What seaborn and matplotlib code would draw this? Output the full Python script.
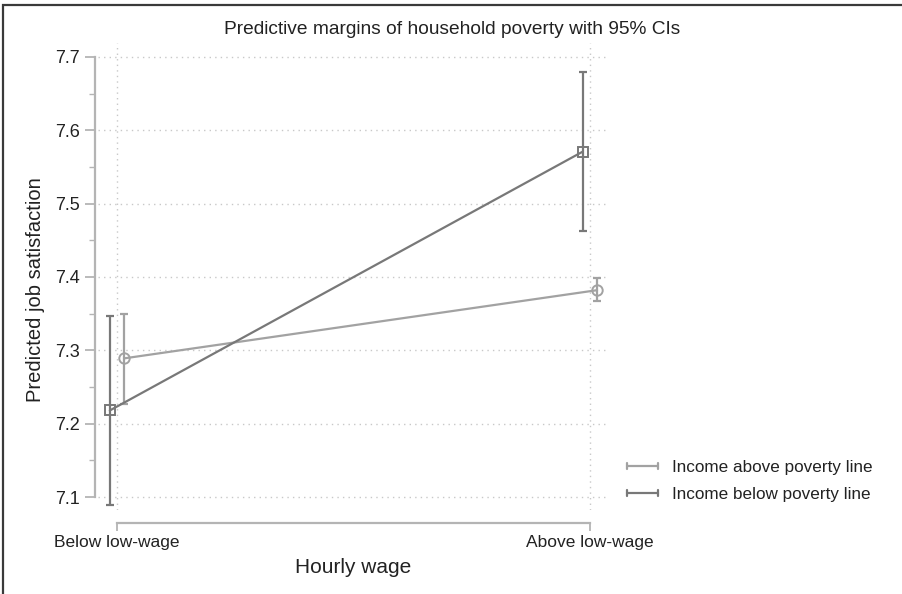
import numpy as np
import pandas as pd
import matplotlib
matplotlib.use("Agg")
import matplotlib.pyplot as plt
import seaborn as sns
from matplotlib.lines import Line2D
from matplotlib.legend_handler import HandlerBase
from matplotlib.patches import Rectangle

# Predictive margins data
wage_levels = ["Below low-wage", "Above low-wage"]
groups = ["Income above poverty line", "Income below poverty line"]
margin_above = [7.289, 7.382]
ci_low_above = [7.227, 7.367]
ci_high_above = [7.350, 7.398]
margin_below = [7.218, 7.571]
ci_low_below = [7.089, 7.463]
ci_high_below = [7.347, 7.679]
y_ticks = [7.1, 7.2, 7.3, 7.4, 7.5, 7.6, 7.7]

colors = {groups[0]: "#a2a2a2", groups[1]: "#787878"}
markers = {groups[0]: "o", groups[1]: "s"}
dodge = {groups[0]: 0.015, groups[1]: -0.015}

rows = []
for g, m, lo, hi in [(groups[0], margin_above, ci_low_above, ci_high_above),
                     (groups[1], margin_below, ci_low_below, ci_high_below)]:
    for i, w in enumerate(wage_levels):
        rows.append({"wage": w, "xpos": i + dodge[g], "group": g,
                     "margin": m[i], "lo": lo[i], "hi": hi[i]})
df = pd.DataFrame(rows)

sns.set_theme(style="white")
plt.rcParams["font.family"] = ["Liberation Sans", "DejaVu Sans"]

fig = plt.figure(figsize=(9.03, 5.94), dpi=100)
W, H = 903, 594
ax = fig.add_axes([98 / W, 1 - 510 / H, (607 - 98) / W, (510 - 43) / H])

# margin lines with hollow markers
sns.lineplot(data=df, x="xpos", y="margin", hue="group", style="group",
             palette=colors, markers=markers, dashes=False, linewidth=1.6,
             markersize=7.5, ax=ax, legend=False, zorder=4, sort=False)
for line in ax.lines:
    c = line.get_color()
    line.set_markerfacecolor("none")
    line.set_markeredgecolor(c)
    line.set_markeredgewidth(1.4)

# confidence intervals
for g in groups:
    sub = df[df.group == g]
    ax.errorbar(sub.xpos, sub.margin,
                yerr=[sub.margin - sub.lo, sub.hi - sub.margin],
                fmt="none", ecolor=colors[g], elinewidth=1.6,
                capsize=3, capthick=1.6, zorder=3)

ax.set_xlim(-0.040, 1.036)
ax.set_ylim(7.0823, 7.719)
ax.set_yticks(y_ticks)
ax.set_yticklabels([f"{v:.1f}" for v in y_ticks])
ax.set_yticks(np.arange(7.15, 7.7, 0.1), minor=True)
ax.set_xticks([0, 1])
ax.set_xticklabels(wage_levels)

ax.grid(True, which="major", color="#c8c8c8", linestyle=(0, (1, 3)), linewidth=1.0)

for s in ["top", "right"]:
    ax.spines[s].set_visible(False)
ax.spines["left"].set_bounds(7.1, 7.7)
ax.spines["left"].set_position(("outward", 2))
ax.spines["bottom"].set_bounds(0, 1)
ax.spines["bottom"].set_position(("outward", 9))
for s in ["left", "bottom"]:
    ax.spines[s].set_color("#b4b4b4")
    ax.spines[s].set_linewidth(1.6)

ax.tick_params(axis="y", which="major", direction="out", length=7, width=1.3,
               color="#b4b4b4", labelsize=13, labelcolor="#222222", pad=4, left=True)
ax.tick_params(axis="y", which="minor", direction="out", length=4, width=1.0,
               color="#b4b4b4", left=True)
ax.tick_params(axis="x", direction="out", length=6, width=1.3, color="#b4b4b4",
               labelsize=12.5, labelcolor="#222222", pad=2.8, bottom=True)

ax.set_xlabel("Hourly wage", fontsize=15, color="#222222")
ax.xaxis.set_label_coords(0.501, -0.124)
ax.xaxis.label.set_va("center")
ax.set_ylabel("Predicted job satisfaction", fontsize=14.5, color="#222222")
ax.yaxis.set_label_coords(-0.123, 0.471)
ax.yaxis.label.set_va("center")

fig.text(452 / W, 1 - 30 / H, "Predictive margins of household poverty with 95% CIs",
         ha="center", va="center", fontsize=13.8, color="#222222")


class CappedLineHandler(HandlerBase):
    def create_artists(self, legend, orig_handle, xdescent, ydescent, width,
                       height, fontsize, trans):
        c = orig_handle.get_color()
        lw = orig_handle.get_linewidth()
        y = height / 2 - ydescent
        x0, x1 = -xdescent, -xdescent + width
        cap = height * 0.25
        arts = [Line2D([x0, x1], [y, y], color=c, lw=lw),
                Line2D([x0, x0], [y - cap, y + cap], color=c, lw=lw),
                Line2D([x1, x1], [y - cap, y + cap], color=c, lw=lw)]
        for a in arts:
            a.set_transform(trans)
        return arts


handles = [Line2D([], [], color=colors[g], lw=1.6) for g in groups]
fig.legend(handles, groups, handler_map={Line2D: CappedLineHandler()},
           loc="center left", bbox_to_anchor=(612 / W, 1 - 481 / H),
           frameon=False, fontsize=12.3, handlelength=1.8, handletextpad=0.8,
           labelspacing=0.65, labelcolor="#222222")

# outer frame
fig.patches.append(Rectangle((3 / W, -0.1), 1.2, 1 - 5 / H + 0.1,
                             transform=fig.transFigure, fill=False,
                             edgecolor="#3a3a3a", linewidth=1.6))

fig.savefig("out.png", dpi=100)
